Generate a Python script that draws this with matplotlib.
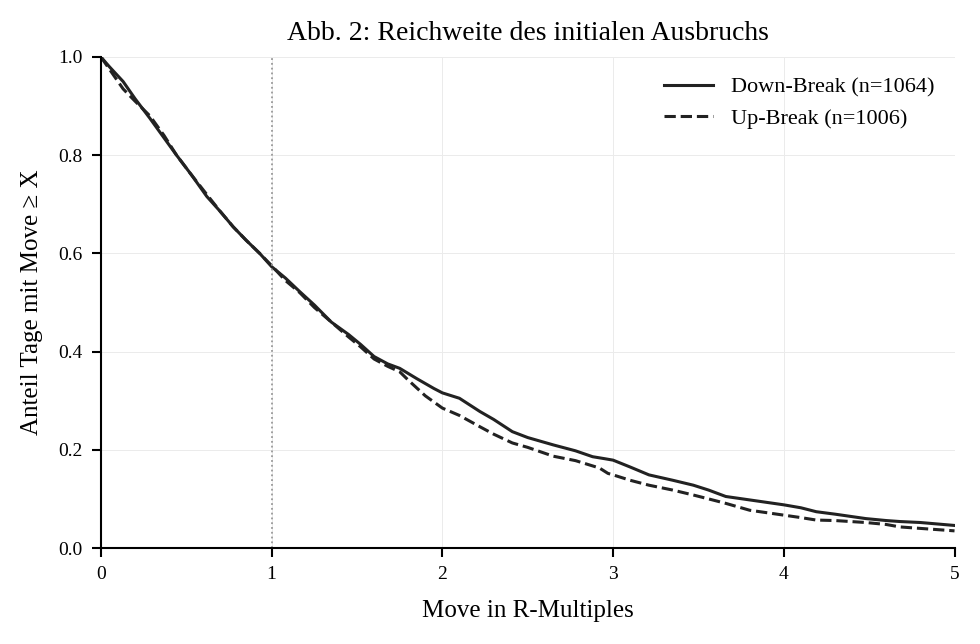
import matplotlib
matplotlib.use("Agg")
import matplotlib.pyplot as plt

plt.rcParams["font.family"] = ["Liberation Serif", "DejaVu Serif"]

# Down-Break (n=1064)
down_x = [0, 0.05, 0.13, 0.2, 0.287, 0.37, 0.443, 0.53, 0.62, 0.7, 0.775, 0.85, 0.93, 1.0,
          1.08, 1.165, 1.25, 1.35, 1.45, 1.52, 1.6, 1.68, 1.75, 1.85, 1.95, 2.0, 2.1, 2.22,
          2.3, 2.41, 2.5, 2.65, 2.78, 2.88, 2.95, 3.0, 3.1, 3.21, 3.35, 3.47, 3.56, 3.66,
          3.8, 3.9, 4.0, 4.1, 4.19, 4.3, 4.48, 4.6, 4.68, 4.8, 5.0]
down_y = [1.0, 0.98, 0.95, 0.915, 0.875, 0.835, 0.80, 0.76, 0.716, 0.685, 0.654, 0.627, 0.60, 0.573,
          0.55, 0.522, 0.495, 0.46, 0.435, 0.415, 0.39, 0.375, 0.366, 0.345, 0.325, 0.316, 0.305, 0.278,
          0.262, 0.237, 0.225, 0.21, 0.198, 0.186, 0.182, 0.179, 0.165, 0.149, 0.138, 0.128, 0.118, 0.105,
          0.098, 0.093, 0.088, 0.082, 0.074, 0.069, 0.060, 0.056, 0.054, 0.052, 0.046]

# Up-Break (n=1006)
up_x = [0, 0.05, 0.1, 0.13, 0.2, 0.287, 0.37, 0.443, 0.53, 0.62, 0.7, 0.775, 0.85, 0.93, 1.0,
        1.08, 1.165, 1.25, 1.35, 1.45, 1.52, 1.6, 1.68, 1.75, 1.8, 1.9, 2.0, 2.1, 2.22, 2.3,
        2.41, 2.5, 2.65, 2.78, 2.92, 2.97, 3.0, 3.1, 3.21, 3.35, 3.47, 3.56, 3.66, 3.8, 3.9,
        4.0, 4.1, 4.19, 4.3, 4.48, 4.6, 4.68, 4.8, 5.0]
up_y = [1.0, 0.975, 0.95, 0.935, 0.91, 0.88, 0.84, 0.80, 0.76, 0.72, 0.685, 0.654, 0.627, 0.60, 0.575,
        0.545, 0.52, 0.49, 0.46, 0.43, 0.41, 0.385, 0.37, 0.359, 0.342, 0.31, 0.285, 0.27, 0.247, 0.232,
        0.214, 0.205, 0.187, 0.178, 0.163, 0.152, 0.149, 0.138, 0.128, 0.118, 0.108, 0.100, 0.091, 0.077, 0.072,
        0.067, 0.062, 0.057, 0.056, 0.052, 0.048, 0.043, 0.040, 0.035]

fig = plt.figure(figsize=(9.8, 6.44), dpi=100)
ax = fig.add_axes([0.103, 0.149, 0.871, 0.7625])

ax.plot(down_x, down_y, color="#222222", lw=2.2, ls="-", label="Down-Break (n=1064)")
ax.plot(up_x, up_y, color="#222222", lw=2.2, ls="--", label="Up-Break (n=1006)")
ax.axvline(1, color="#999999", lw=1.3, ls=":")

ax.set_xlim(0, 5)
ax.set_ylim(0, 1.0)
ax.set_xticks([0, 1, 2, 3, 4, 5])
ax.set_yticks([0.0, 0.2, 0.4, 0.6, 0.8, 1.0])
ax.set_yticklabels(["0.0", "0.2", "0.4", "0.6", "0.8", "1.0"])
ax.tick_params(labelsize=14, length=6.5, width=1.5, pad=6.5)
ax.grid(True, color="#ebebeb", lw=0.7)
ax.set_axisbelow(True)
for s in ["top", "right"]:
    ax.spines[s].set_visible(False)
for s in ["left", "bottom"]:
    ax.spines[s].set_linewidth(1.5)

ax.set_title("Abb. 2: Reichweite des initialen Ausbruchs", fontsize=20, pad=12)
ax.set_xlabel("Move in R-Multiples", fontsize=18, labelpad=12)
ax.set_ylabel("Anteil Tage mit Move ≥ X", fontsize=18, labelpad=11)
ax.legend(frameon=False, fontsize=16, loc="upper right", handlelength=2.2)

fig.savefig("out.png", dpi=100)
